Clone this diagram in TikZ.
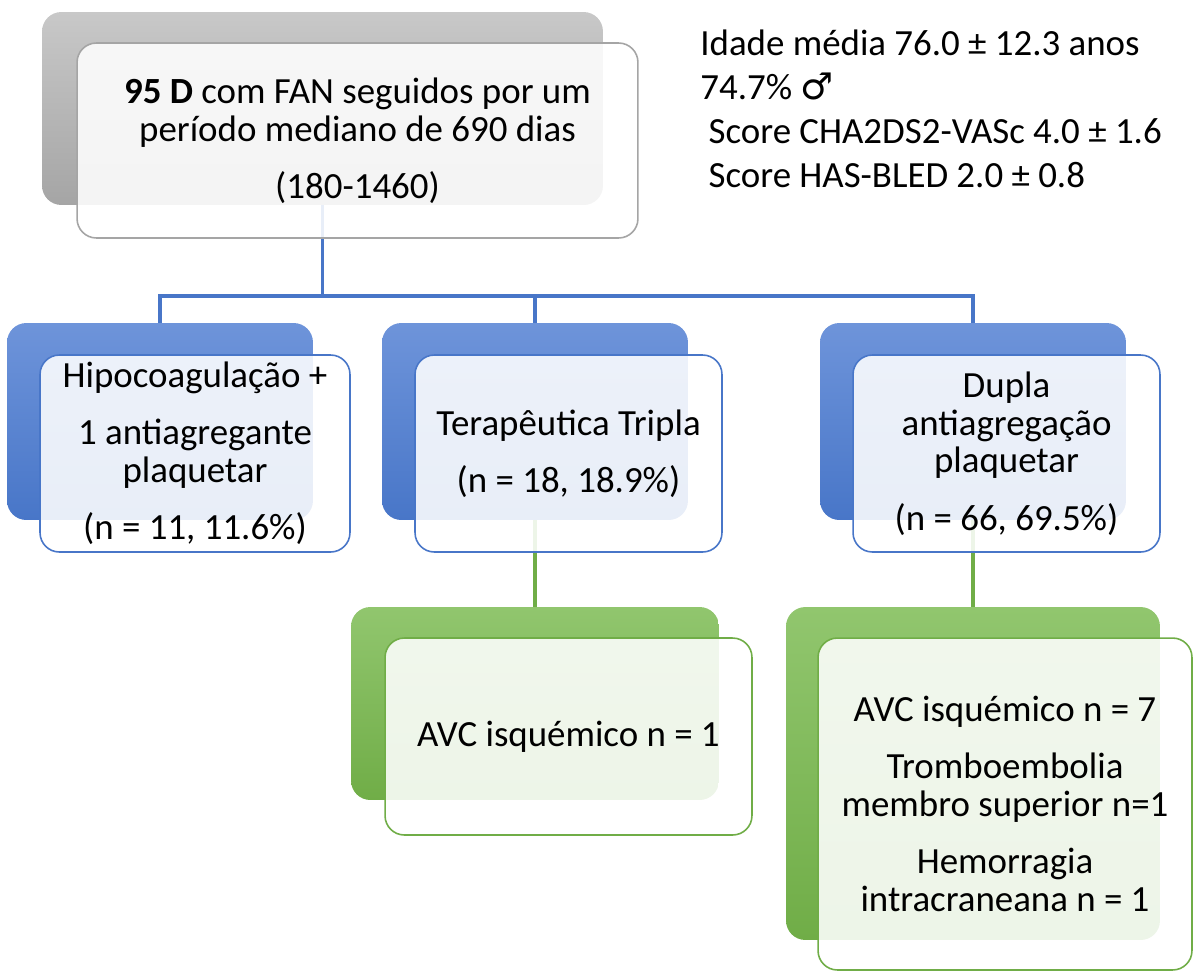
\documentclass[tikz,border=0pt]{standalone}
\usepackage{fontspec}
\setmainfont{Carlito}
\newfontfamily\symfont{DejaVu Sans}
\usepackage{tikz}
\definecolor{grayc}{RGB}{165, 165, 165}
\definecolor{grayl}{RGB}{200, 200, 200}
\definecolor{bluec}{RGB}{72, 118, 200}
\definecolor{bluel}{RGB}{110, 148, 218}
\definecolor{greenc}{RGB}{112, 173, 71}
\definecolor{greenl}{RGB}{145, 198, 110}
\newcommand*{\bigfont}{\fontsize{21}{21.5}\selectfont}

\tikzset{
  back/.style={rounded corners=11pt, inner sep=0pt},
  front/.style={rounded corners=11pt, fill=white, fill opacity=0.88,
    text opacity=1, line width=0.9pt, align=center, inner sep=0pt, font=\bigfont},
  bluecon/.style={draw=bluec, line width=1.8pt},
  greencon/.style={draw=greenc, line width=1.8pt}
}

\begin{document}
\begin{tikzpicture}[x=0.02cm, y=-0.02cm]
  \useasboundingbox (0, 0) rectangle (1196, 971);

  % back boxes
  \node[back, top color=grayl, bottom color=grayc, minimum width=11.22cm,
    minimum height=3.86cm] (rootback) at (322.5, 108.5) {};
  \node[back, top color=bluel, bottom color=bluec, minimum width=6.12cm,
    minimum height=3.94cm] (hipoback) at (160, 421.5) {};
  \node[back, top color=bluel, bottom color=bluec, minimum width=6.12cm,
    minimum height=3.94cm] (tripback) at (535, 421.5) {};
  \node[back, top color=bluel, bottom color=bluec, minimum width=6.12cm,
    minimum height=3.94cm] (duplaback) at (973, 421.5) {};
  \node[back, top color=greenl, bottom color=greenc, minimum width=7.36cm,
    minimum height=3.86cm] (avcback) at (535, 703.5) {};
  \node[back, top color=greenl, bottom color=greenc, minimum width=7.48cm,
    minimum height=6.66cm] (eventback) at (973, 773.5) {};

  % connectors
  \coordinate (split) at (322.5, 296);
  \draw[bluecon] (rootback.south) -- (split);
  \draw[bluecon] (hipoback.north) |- (split) -| (duplaback.north);
  \draw[bluecon] (split) -| (tripback.north);
  \draw[greencon] (tripback.south) -- (avcback.north);
  \draw[greencon] (duplaback.south) -- (eventback.north);

  % front boxes
  \node[front, draw=grayc, minimum width=11.22cm, minimum height=3.9cm]
    (root) at (357.5, 140.5)
    {\textbf{95 D} com FAN seguidos por um\\ período mediano de 690 dias\\[11pt] (180-1460)};
  \node[front, draw=bluec, minimum width=6.2cm, minimum height=3.94cm]
    (hipo) at (195, 453.5)
    {Hipocoagulação +\\[11pt] 1 antiagregante\\ plaquetar\\[11pt] (n = 11, 11.6\%)};
  \node[front, draw=bluec, minimum width=6.14cm, minimum height=3.94cm]
    (trip) at (568.5, 453.5)
    {Terapêutica Tripla\\[11pt] (n = 18, 18.9\%)};
  \node[front, draw=bluec, minimum width=6.14cm, minimum height=3.94cm]
    (dupla) at (1006.5, 453.5)
    {Dupla\\ antiagregação\\ plaquetar\\[11pt] (n = 66, 69.5\%)};
  \node[front, draw=greenc, minimum width=7.34cm, minimum height=3.94cm]
    (avc) at (568.5, 736.5) {AVC isquémico n = 1};
  \node[front, draw=greenc, minimum width=7.48cm, minimum height=6.64cm]
    (event) at (1005, 804)
    {AVC isquémico n = 7\\[11pt] Tromboembolia\\ membro superior n=1\\[11pt]
     Hemorragia\\ intracraneana n = 1};

  \node[anchor=north west, align=left, inner sep=0pt,
    font=\fontsize{21}{25}\selectfont] (stats) at (700, 30)
    {Idade média 76.0 ± 12.3 anos\\ 74.7\% {\symfont ♂}\\
     \ Score CHA2DS2-VASc 4.0 ± 1.6\\ \ Score HAS-BLED 2.0 ± 0.8};
\end{tikzpicture}
\end{document}
